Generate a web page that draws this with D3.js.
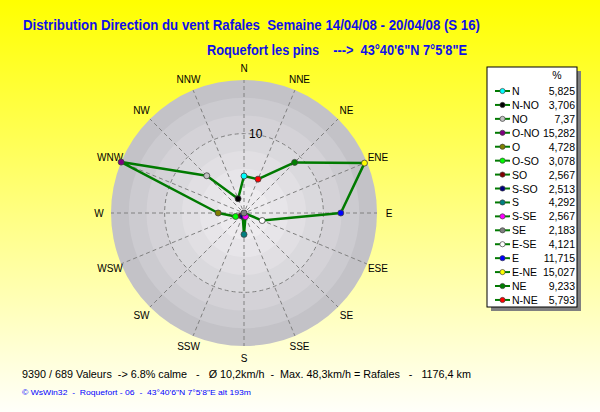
<!DOCTYPE html>
<html><head><meta charset="utf-8">
<script src="https://cdn.jsdelivr.net/npm/d3@7"></script>
<style>html,body{margin:0;padding:0;overflow:hidden}text{white-space:pre}</style>
</head><body>
<svg id="c" width="600" height="412"></svg>
<script>
// ---- data ----
const directions = ["N","N-NO","NO","O-NO","O","O-SO","SO","S-SO","S","S-SE","SE","E-SE","E","E-NE","NE","N-NE"];
const directionAngles = [0,337.5,315,292.5,270,247.5,225,202.5,180,157.5,135,112.5,90,67.5,45,22.5];
const values = [5.825,3.706,7.37,15.282,4.728,3.078,2.567,2.513,4.292,2.567,2.183,4.121,11.715,15.027,9.233,5.793];
const valueLabels = ["5,825","3,706","7,37","15,282","4,728","3,078","2,567","2,513","4,292","2,567","2,183","4,121","11,715","15,027","9,233","5,793"];
const markerColors = ["#00FFFF","#000000","#C0C0C0","#800080","#808000","#00FF00","#800000","#000080","#008080","#FF00FF","#808080","#FFFFFF","#0000FF","#FFFF00","#008000","#FF0000"];
const compassLabels = ["N","NNE","NE","ENE","E","ESE","SE","SSE","S","SSW","SW","WSW","W","WNW","NW","NNW"];
const radialTicks = [10];
const titleText = "Distribution Direction du vent Rafales  Semaine 14/04/08 - 20/04/08 (S 16)";
const subtitleText = "Roquefort les pins    --->  43°40'6\"N 7°5'8\"E";
const statsText = "9390 / 689 Valeurs  -> 6.8% calme   -   Ø 10,2km/h  -  Max. 48,3km/h = Rafales   -   1176,4 km";
const footerText = "© WsWin32  -  Roquefort - 06  -  43°40'6\"N 7°5'8\"E alt 193m";

// ---- layout ----
const svg = d3.select("#c");
const cx = 244, cy = 213, R = 133;
const font = "'Liberation Sans', Arial, sans-serif";

const defs = svg.append("defs");
const bg = defs.append("linearGradient").attr("id","bg").attr("x1",0).attr("y1",0).attr("x2",0).attr("y2",1);
bg.append("stop").attr("offset","0").attr("stop-color","#FFFF00");
bg.append("stop").attr("offset","1").attr("stop-color","#FFFFFA");
svg.append("rect").attr("width",600).attr("height",412).attr("fill","url(#bg)");

// titles
svg.append("text").attr("x",23).attr("y",30).attr("textLength",457).attr("lengthAdjust","spacingAndGlyphs")
  .attr("font-family","'Liberation Sans Narrow', 'Liberation Sans', Arial, sans-serif").attr("font-weight","bold")
  .attr("font-size",14).attr("fill","#1010E8").text(titleText);
svg.append("text").attr("x",207).attr("y",55).attr("textLength",260).attr("lengthAdjust","spacingAndGlyphs")
  .attr("font-family","'Liberation Sans Narrow', 'Liberation Sans', Arial, sans-serif").attr("font-weight","bold")
  .attr("font-size",14).attr("fill","#1010E8").text(subtitleText);

// polar
const r = d3.scaleLinear().domain([d3.min(values), d3.max(values)]).range([0, R]);
const g = svg.append("g").attr("transform",`translate(${cx},${cy})`);
const nb = 8;
const ringColor = d3.interpolateRgb("#C3C2C7","#F3F1F4");
for (let k = 0; k < nb; k++) {
  g.append("circle").attr("r", R - k*(R/7.5)).attr("fill", ringColor(Math.pow(k/(nb-1),0.85)));
}
// spokes
const rad = a => a*Math.PI/180;
g.selectAll(".spoke").data(directionAngles).join("line")
  .attr("x1", a => 4*Math.sin(rad(a))).attr("y1", a => -4*Math.cos(rad(a)))
  .attr("x2", a => R*Math.sin(rad(a))).attr("y2", a => -R*Math.cos(rad(a)))
  .attr("stroke","#808080").attr("stroke-width",1).attr("stroke-dasharray","4,3");
g.selectAll(".tickc").data(radialTicks).join("circle")
  .attr("r", d => r(d)).attr("fill","none").attr("stroke","#808080").attr("stroke-dasharray","4,3");
g.selectAll(".tickt").data(radialTicks).join("text")
  .attr("x",5).attr("y", d => -r(d)+4).attr("font-family",font).attr("font-size",12).attr("fill","#000").text(d => d);

// compass labels
g.selectAll(".cl").data(compassLabels).join("text")
  .attr("x",(d,i) => 145*Math.sin(rad(i*22.5)))
  .attr("y",(d,i) => -145*Math.cos(rad(i*22.5)))
  .attr("text-anchor","middle").attr("dy","0.35em")
  .attr("font-family",font).attr("font-size",10).attr("fill","#000").text(d => d);

// series
const pts = values.map((v,i) => ({v, a: directionAngles[i], c: markerColors[i]}));
const line = d3.lineRadial().angle(d => rad(d.a)).radius(d => r(d.v)).curve(d3.curveLinearClosed);
g.append("path").attr("d", line(pts)).attr("fill","none").attr("stroke","#007A00").attr("stroke-width",2.5).attr("stroke-linejoin","round");
g.selectAll(".pt").data(pts).join("circle")
  .attr("cx", d => r(d.v)*Math.sin(rad(d.a))).attr("cy", d => -r(d.v)*Math.cos(rad(d.a)))
  .attr("r",3).attr("fill", d => d.c).attr("stroke","#404040").attr("stroke-width",0.8);

// legend
const lx = 487, ly = 67, lw = 90, lh = 240;
svg.append("rect").attr("x",lx+4).attr("y",ly+4).attr("width",lw).attr("height",lh).attr("fill","#808080");
svg.append("rect").attr("x",lx).attr("y",ly).attr("width",lw).attr("height",lh).attr("fill","#FFFFFF").attr("stroke","#000").attr("stroke-width",1);
svg.append("text").attr("x",557).attr("y",79).attr("text-anchor","middle").attr("font-family",font).attr("font-size",10.5).text("%");
const lg = svg.append("g");
const rowY = i => 91 + i*13.93;
directions.forEach((name,i) => {
  const y = rowY(i);
  lg.append("line").attr("x1",495).attr("x2",510).attr("y1",y).attr("y2",y).attr("stroke","#007A00").attr("stroke-width",2);
  lg.append("circle").attr("cx",502.5).attr("cy",y).attr("r",2.6).attr("fill",markerColors[i]).attr("stroke","#404040").attr("stroke-width",0.7);
  lg.append("text").attr("x",512).attr("y",y+4).attr("font-family",font).attr("font-size",10.5).attr("fill","#000").text(name);
  lg.append("text").attr("x",575).attr("y",y+4).attr("text-anchor","end").attr("font-family",font).attr("font-size",10.5).attr("fill","#000").text(valueLabels[i]);
});

// bottom text
svg.append("text").attr("x",22).attr("y",378).attr("textLength",449).attr("lengthAdjust","spacingAndGlyphs")
  .attr("font-family",font).attr("font-size",11.5).attr("fill","#000").text(statsText);
svg.append("text").attr("x",22).attr("y",395).attr("textLength",229).attr("lengthAdjust","spacingAndGlyphs")
  .attr("font-family",font).attr("font-size",8).attr("fill","#0000FF").text(footerText);
</script>
</body></html>
